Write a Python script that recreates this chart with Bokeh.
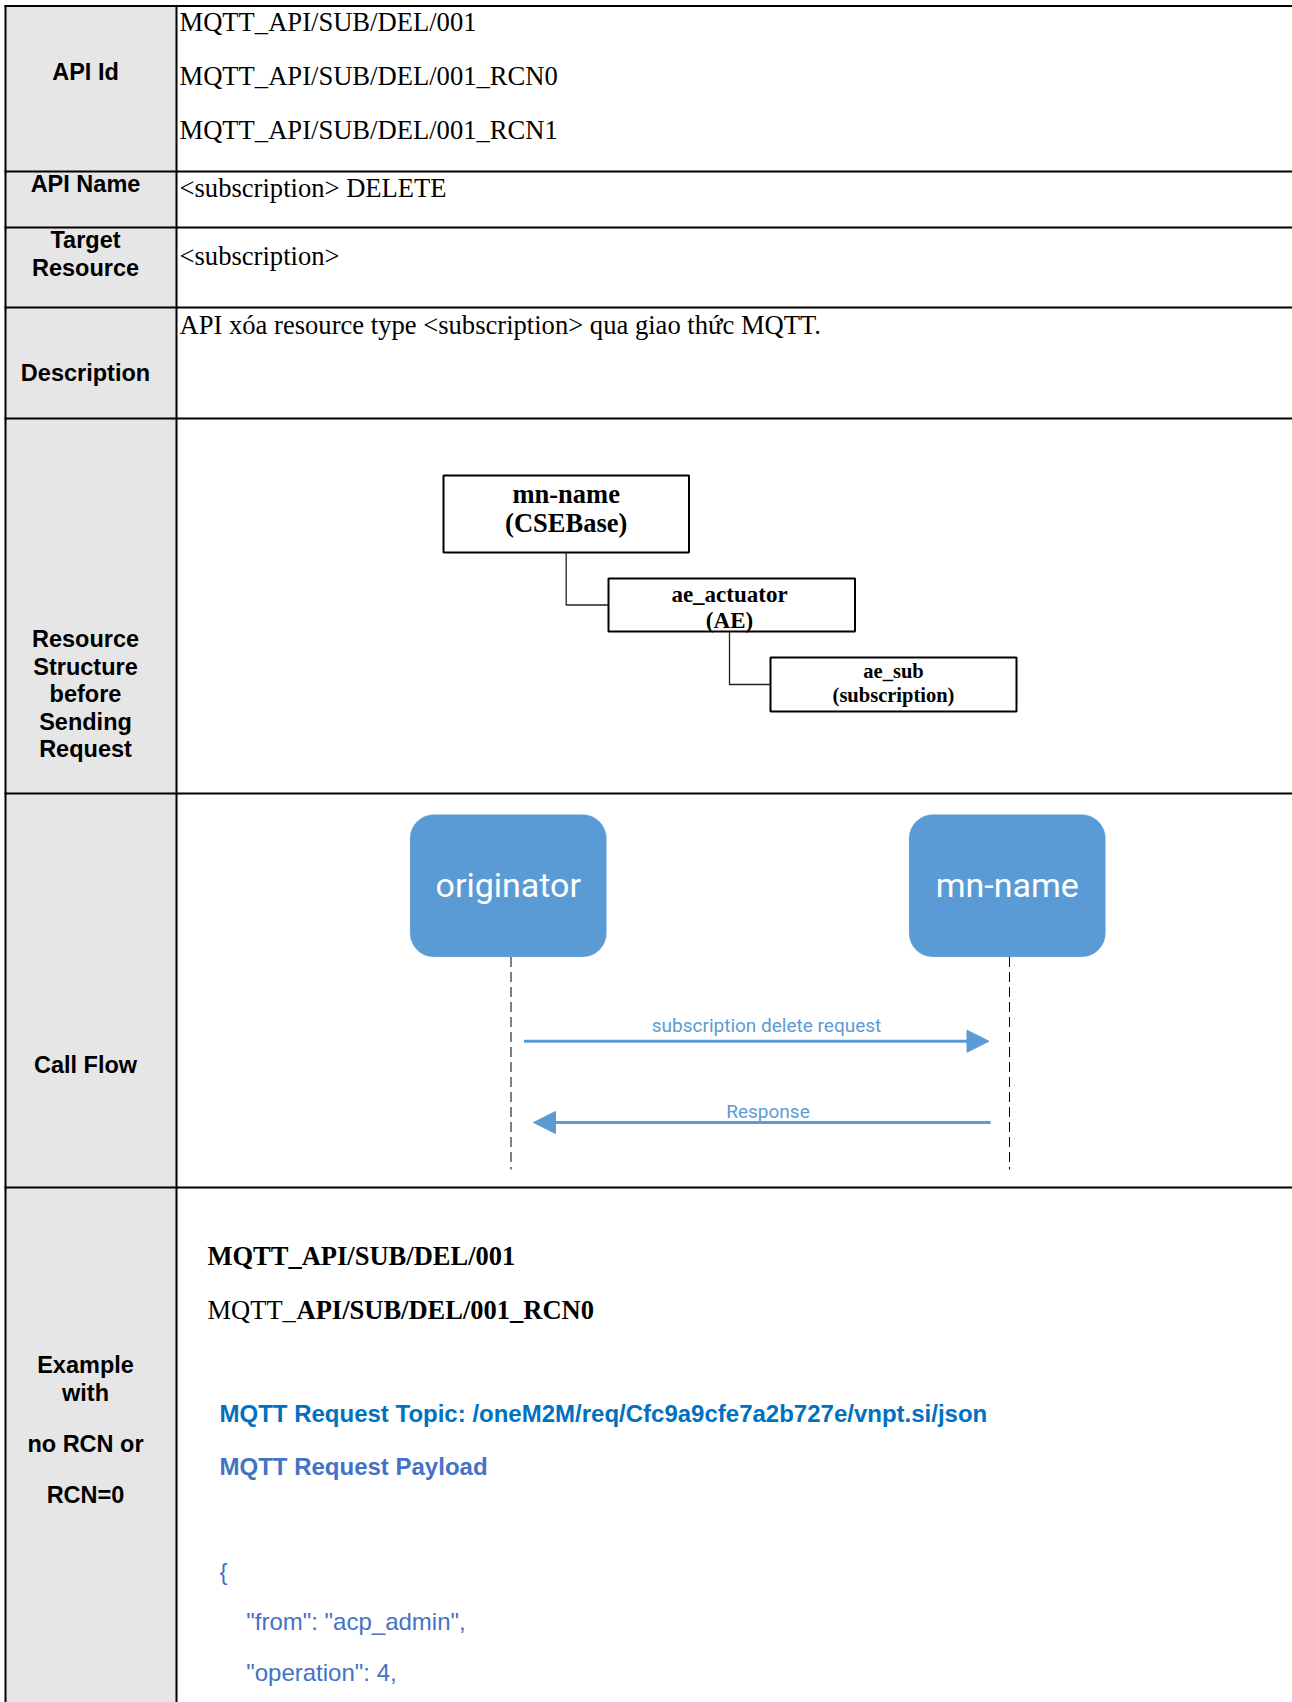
from bokeh.plotting import figure
from bokeh.models import Range1d, BoxAnnotation, Arrow, NormalHead, ColumnDataSource
from bokeh.core.properties import value
from bokeh.embed import file_html
from bokeh.resources import INLINE

# ---------------- content (data) ----------------
label_text = ["API Id", "API Name", "Target", "Resource", "Description",
              "Resource", "Structure", "before", "Sending", "Request",
              "Call Flow", "Example", "with", "no RCN or", "RCN=0"]
api_ids = ["MQTT_API/SUB/DEL/001", "MQTT_API/SUB/DEL/001_RCN0", "MQTT_API/SUB/DEL/001_RCN1"]
api_name = "<subscription> DELETE"
target_resource = "<subscription>"
description = "API xóa resource type <subscription> qua giao thức MQTT."
tree_names = ["mn-name", "ae_actuator", "ae_sub"]
tree_types = ["(CSEBase)", "(AE)", "(subscription)"]
participants = ["originator", "mn-name"]
messages = ["subscription delete request", "Response"]
example_id_bold = "MQTT_API/SUB/DEL/001"
example_id2_regular = "MQTT_"
example_id2_bold = "API/SUB/DEL/001_RCN0"
topic_text = "MQTT Request Topic: /oneM2M/req/Cfc9a9cfe7a2b727e/vnpt.si/json"
payload_title = "MQTT Request Payload"
payload_lines = ["{", "\"from\": \"acp_admin\",", "\"operation\": 4,"]

# ---------------- layout (page pixel coordinates) ----------------
PAGE_W, PAGE_H = 1292, 1702
DY = -9.5  # text baseline correction
row_edges = [5.5, 171, 227, 307, 418, 793, 1187]
col_left, col_div = 5, 176
label_cx = 85
label_base = [81, 193, 249, 277, 382, 648, 675.5, 703, 731, 758, 1074, 1374, 1401.7, 1453, 1504]
text_x = 179
right_base = [30.5, 85, 139, 196.5, 265, 334]

tree_left = [443, 608, 770]
tree_right = [688.5, 854.5, 1016]
tree_top = [475, 578, 657]
tree_bottom = [552, 631, 711]
tree_cx = [565.7, 729, 893]
tree_name_base = [502.5, 603, 680]
tree_type_base = [532, 629, 704]
tree_sizes = ["26.5px", "23px", "20.5px"]

part_left = [409.5, 908.5]
part_right = [606, 1105]
part_top, part_bottom = 814, 956.5
part_text_base = 894
life_x = [510.5, 1009]
life_end = 1169
msg_start = [523.5, 990]
msg_end = [988.5, 533]
msg_y = [1040.7, 1122]
msg_label_x = [766, 767.5]
msg_label_base = [1034.5, 1120]

BLUE = "#5B9BD5"

def b(vals):
    return [v + DY for v in vals]

p = figure(width=PAGE_W, height=PAGE_H,
           x_range=Range1d(0, PAGE_W), y_range=Range1d(PAGE_H, 0),
           output_backend="svg", toolbar_location=None, min_border=0,
           background_fill_color="white", border_fill_color="white",
           outline_line_color=None)
p.axis.visible = False
p.grid.visible = False

# gray header column
p.quad(left=[col_left], right=[col_div], top=[row_edges[0]], bottom=[PAGE_H],
       fill_color="#E6E6E6", line_color=None)

# table lines
n = len(row_edges)
p.segment(x0=[col_left - 1] * n, y0=row_edges, x1=[PAGE_W] * n, y1=row_edges,
          line_color="black", line_width=2)
p.segment(x0=[col_left, col_div], y0=[row_edges[0] - 1] * 2,
          x1=[col_left, col_div], y1=[PAGE_H] * 2, line_color="black", line_width=2)

# header labels
p.text(x=[label_cx] * len(label_text), y=b(label_base), text=label_text,
       text_font=value("Liberation Sans"), text_font_style="bold",
       text_font_size="23.5px", text_align="center", text_baseline="alphabetic",
       text_color="black")

# right-column Times text
rt = api_ids + [api_name, target_resource, description]
p.text(x=[text_x] * len(rt), y=b(right_base), text=rt, text_font=value("Liberation Serif"),
       text_font_size="26.6px", text_baseline="alphabetic", text_color="black")

# resource tree
p.quad(left=tree_left, right=tree_right, top=tree_top, bottom=tree_bottom,
       fill_color="white", line_color="black", line_width=2)
xs, ys = [], []
for i in range(len(tree_names) - 1):
    mid = (tree_top[i + 1] + tree_bottom[i + 1]) / 2
    xs.append([tree_cx[i], tree_cx[i], tree_left[i + 1]])
    ys.append([tree_bottom[i], mid, mid])
p.multi_line(xs=xs, ys=ys, line_color="#222222", line_width=1.3)
tsrc = ColumnDataSource(dict(x=tree_cx, yn=b(tree_name_base), yt=b(tree_type_base),
                             n=tree_names, t=tree_types, s=tree_sizes))
p.text(x="x", y="yn", text="n", source=tsrc, text_font=value("Liberation Serif"),
       text_font_style="bold", text_font_size="s", text_align="center",
       text_baseline="alphabetic", text_color="black")
p.text(x="x", y="yt", text="t", source=tsrc, text_font=value("Liberation Serif"),
       text_font_style="bold", text_font_size="s", text_align="center",
       text_baseline="alphabetic", text_color="black")

# call flow participants
for l, r in zip(part_left, part_right):
    p.add_layout(BoxAnnotation(left=l, right=r, top=part_top, bottom=part_bottom,
                               fill_color=BLUE, fill_alpha=1.0, line_color="#A8C6E6",
                               line_width=1, border_radius=24, level="underlay"))
pcx = [(l + r) / 2 for l, r in zip(part_left, part_right)]
p.text(x=pcx, y=b([part_text_base] * 2), text=participants, text_font=value("Roboto"),
       text_font_size="34px", text_align="center", text_baseline="alphabetic",
       text_color="white")
p.segment(x0=life_x, y0=[part_bottom] * 2, x1=life_x, y1=[life_end] * 2,
          line_color="black", line_width=1, line_dash="10 5")
for xs0, xe, yy in zip(msg_start, msg_end, msg_y):
    p.add_layout(Arrow(end=NormalHead(size=22, fill_color=BLUE, line_color=BLUE),
                       x_start=xs0, y_start=yy, x_end=xe, y_end=yy,
                       line_color=BLUE, line_width=3))
p.text(x=msg_label_x, y=b(msg_label_base), text=messages, text_font=value("Roboto"),
       text_font_size="19px", text_align="center", text_baseline="alphabetic",
       text_color=BLUE)

# example section
p.text(x=[207], y=b([1265]), text=[example_id_bold], text_font=value("Liberation Serif"),
       text_font_style="bold", text_font_size="26.5px", text_baseline="alphabetic",
       text_color="black")
p.text(x=[207], y=b([1319]), text=[example_id2_regular], text_font=value("Liberation Serif"),
       text_font_size="26.5px", text_baseline="alphabetic", text_color="black")
p.text(x=[296], y=b([1319]), text=[example_id2_bold], text_font=value("Liberation Serif"),
       text_font_style="bold", text_font_size="26.5px", text_baseline="alphabetic",
       text_color="black")
p.text(x=[219], y=b([1422.7]), text=[topic_text], text_font=value("Liberation Sans"),
       text_font_style="bold", text_font_size="24px", text_baseline="alphabetic",
       text_color="#0070C0")
p.text(x=[219], y=b([1475]), text=[payload_title], text_font=value("Liberation Sans"),
       text_font_style="bold", text_font_size="24px", text_baseline="alphabetic",
       text_color="#4472C4")
p.text(x=[219, 245.7, 245.7], y=b([1580, 1630, 1681.7]), text=payload_lines,
       text_font=value("Liberation Sans"), text_font_size="24px",
       text_baseline="alphabetic", text_color="#4472C4")

open("out.html", "w").write(file_html(p, INLINE))
